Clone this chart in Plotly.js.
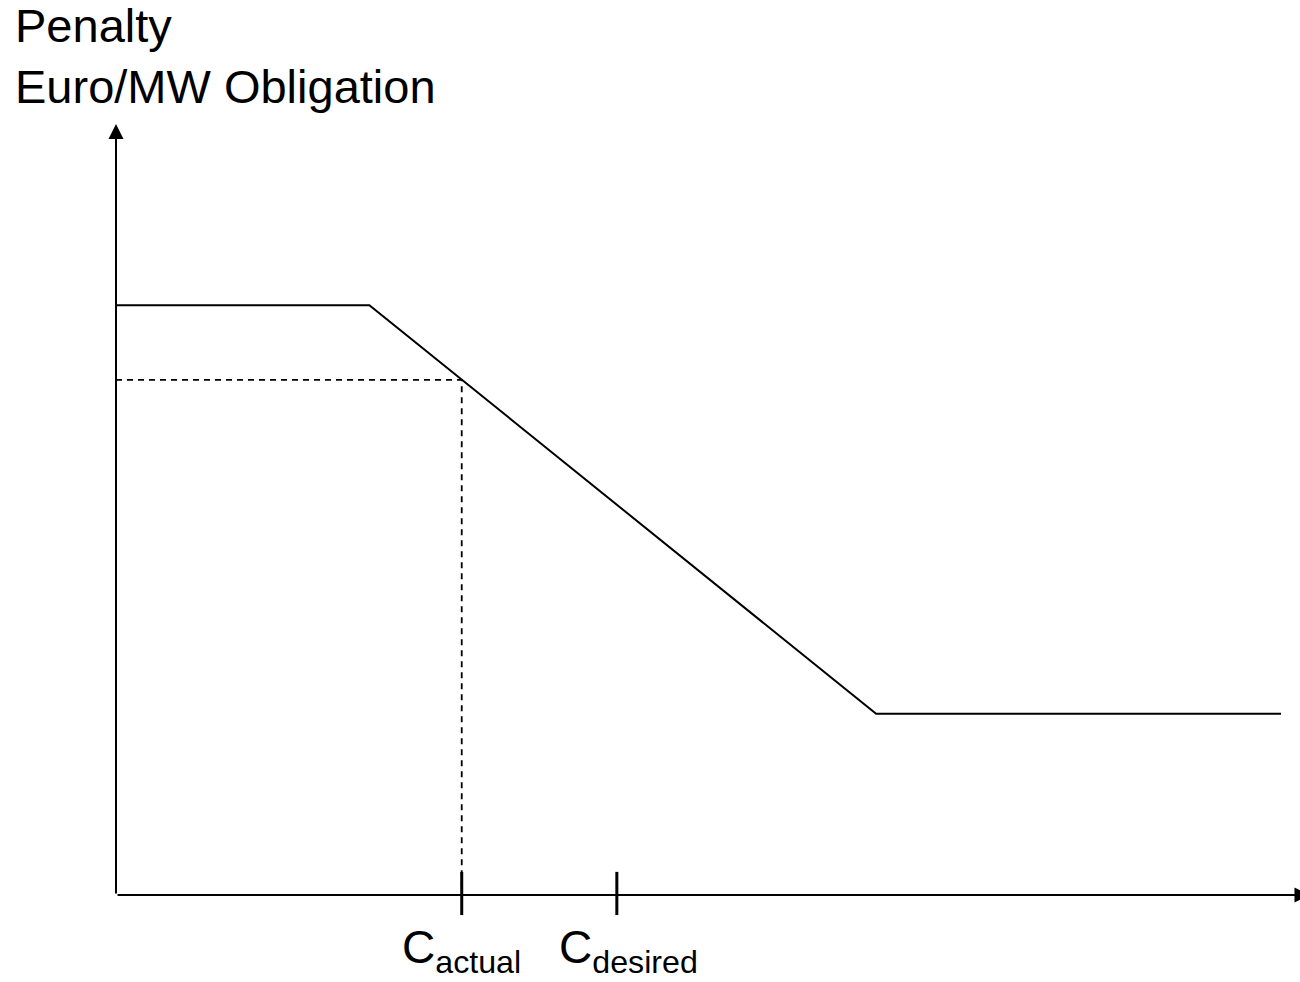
<!DOCTYPE html>
<html>
<head>
<meta charset="utf-8">
<script src="https://cdn.plot.ly/plotly-3.0.1.min.js"></script>
<style>
  html, body { margin: 0; padding: 0; background: #fff; }
  #chart { width: 1300px; height: 982px; }
</style>
</head>
<body>
<div id="chart"></div>
<script>
// Penalty curve (capacity on x, penalty on y, arbitrary units)
const penaltyX = [0, 21.4, 64.2, 98.4];
const penaltyY = [76.5, 76.5, 23.5, 23.5];
// Capacity markers on the x axis
const markerNames = ['actual', 'desired'];
const markerX = [29.2, 42.3];
// Penalty level read at C_actual
const actualPenalty = 66.8;
// Axis extents
const axisEndX = 100.8;
const axisEndY = 100;
const titleLines = ['Penalty', 'Euro/MW Obligation'];

const FONT = 'Liberation Sans, Arial, sans-serif';
const labelShift = [0, 12];

const traces = [
  {
    x: penaltyX, y: penaltyY, mode: 'lines', type: 'scatter',
    line: {color: '#000', width: 2}, hoverinfo: 'skip', showlegend: false, cliponaxis: false
  },
  {
    x: [0, markerX[0], markerX[0]], y: [actualPenalty, actualPenalty, 0],
    mode: 'lines', type: 'scatter',
    line: {color: '#000', width: 1.8, dash: '6px,5px'}, hoverinfo: 'skip', showlegend: false, cliponaxis: false
  }
];

const shapes = markerX.map(x => ({
  type: 'line', xref: 'x', yref: 'y', x0: x, x1: x, y0: -2.6, y1: 3.0,
  line: {color: '#000', width: 3}
}));

const annotations = [
  // y axis arrow
  {x: 0, y: axisEndY, ax: 0, ay: 0, xref: 'x', yref: 'y', axref: 'x', ayref: 'y',
   text: '', showarrow: true, arrowhead: 2, arrowsize: 1.5, arrowwidth: 2, arrowcolor: '#000', standoff: 0},
  // x axis arrow
  {x: axisEndX, y: 0, ax: 0, ay: 0, xref: 'x', yref: 'y', axref: 'x', ayref: 'y',
   text: '', showarrow: true, arrowhead: 2, arrowsize: 1.5, arrowwidth: 2, arrowcolor: '#000', standoff: 0}
].concat(markerNames.map((n, i) => ({
  x: markerX[i], y: -3.1, xref: 'x', yref: 'y', xanchor: 'center', yanchor: 'top',
  xshift: labelShift[i],
  text: 'C<sub>' + n + '</sub>', showarrow: false,
  font: {family: FONT, size: 46, color: '#000'}
})));

const layout = {
  width: 1300, height: 982,
  margin: {l: 0, r: 0, t: 0, b: 0, pad: 0},
  paper_bgcolor: '#fff', plot_bgcolor: '#fff',
  title: {
    text: titleLines.join('<br>'),
    x: 15 / 1300, xanchor: 'left', xref: 'container',
    y: 1 - 42 / 982, yanchor: 'top', yref: 'container',
    font: {family: FONT, size: 47, color: '#000'}
  },
  xaxis: {range: [-116 / 11.84, 1184 / 11.84], visible: false, fixedrange: true},
  yaxis: {range: [-87 / 7.71, 895 / 7.71], visible: false, fixedrange: true},
  shapes: shapes,
  annotations: annotations,
  showlegend: false
};

Plotly.newPlot('chart', traces, layout, {displayModeBar: false, staticPlot: true});
</script>
</body>
</html>
